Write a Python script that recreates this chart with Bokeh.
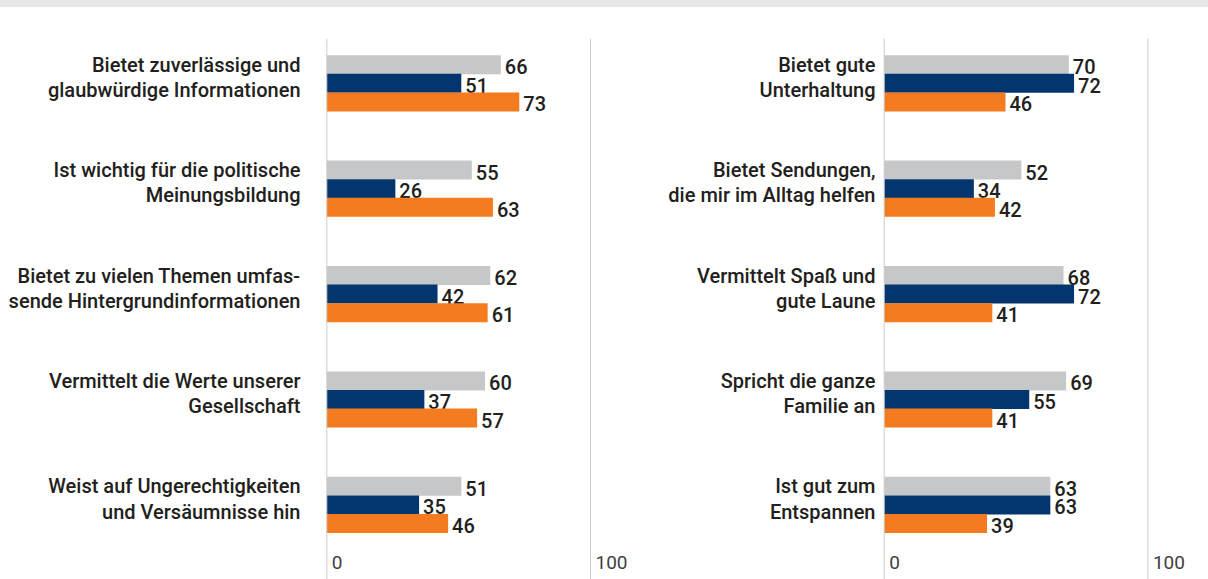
from bokeh.plotting import figure
from bokeh.layouts import row, column
from bokeh.models import Range1d, FixedTicker, ColumnDataSource, Span, Div
from bokeh.core.properties import value
from bokeh.embed import file_html
from bokeh.resources import INLINE

# ---------------- data ----------------
left_categories = [
    "Bietet zuverlässige und\nglaubwürdige Informationen",
    "Ist wichtig für die politische\nMeinungsbildung",
    "Bietet zu vielen Themen umfas-\nsende Hintergrundinformationen",
    "Vermittelt die Werte unserer\nGesellschaft",
    "Weist auf Ungerechtigkeiten\nund Versäumnisse hin",
]
left_gray = [66, 55, 62, 60, 51]
left_navy = [51, 26, 42, 37, 35]
left_orange = [73, 63, 61, 57, 46]

right_categories = [
    "Bietet gute\nUnterhaltung",
    "Bietet Sendungen,\ndie mir im Alltag helfen",
    "Vermittelt Spaß und\ngute Laune",
    "Spricht die ganze\nFamilie an",
    "Ist gut zum\nEntspannen",
]
right_gray = [70, 52, 68, 69, 63]
right_navy = [72, 34, 72, 55, 63]
right_orange = [46, 42, 41, 41, 39]

axis_ticks = [0, 100]
axis_tick_labels = ["0", "100"]

# ---------------- style ----------------
GRAY = "#c6c7c8"
NAVY = "#03366f"
ORANGE = "#f47b20"
TEXT = "#231f20"
LINE = "#cccccc"
BAND = "#e6e7e8"
FONT = "Roboto Medium, Roboto"

BAND_H = 7
PX = 2.637          # pixels per percent
GROUP_PX = 105.4    # pixels between group centres
FIRST_CENTER = 82.8 - BAND_H  # first group centre, from figure top
HEIGHT = 579 - BAND_H
TOP = 38 - BAND_H
BAR_H = 18.6 / GROUP_PX
LABEL_SHIFT = 6.0 / GROUP_PX


def panel(cats, g, n, o, width, border_left, zero_gap, standoff):
    idx = list(range(len(cats)))
    y_top = (TOP - FIRST_CENTER) / GROUP_PX
    y_bot = (HEIGHT - FIRST_CENTER) / GROUP_PX
    x_start = -zero_gap / PX
    x_end = x_start + (width - border_left) / PX
    p = figure(width=width, height=HEIGHT, output_backend="svg", toolbar_location=None,
               x_range=Range1d(x_start, x_end), y_range=Range1d(y_bot, y_top),
               x_axis_location=None, min_border_left=border_left, min_border_right=0,
               min_border_top=TOP, min_border_bottom=0)
    p.outline_line_color = None
    p.grid.visible = False
    p.border_fill_color = "white"

    for loc in axis_ticks:
        p.add_layout(Span(location=loc, dimension="height", line_color=LINE, line_width=1))

    for vals, off, col in ((g, -BAR_H, GRAY), (n, 0.0, NAVY), (o, BAR_H, ORANGE)):
        src = ColumnDataSource(dict(y=[i + off for i in idx], v=vals,
                                    t=[str(x) for x in vals]))
        p.hbar(y="y", left=0, right="v", height=BAR_H * 1.02, source=src,
               fill_color=col, line_color=None)
        p.text(x="v", y="y", text="t", source=src, x_offset=4, y_offset=2,
               text_baseline="middle", text_align="left", text_color=TEXT,
               text_font=value(FONT), text_font_size="20px")

    tsrc = ColumnDataSource(dict(x=axis_ticks, t=axis_tick_labels,
                                 y=[(562 - BAND_H - FIRST_CENTER) / GROUP_PX] * len(axis_ticks)))
    p.text(x="x", y="y", text="t", source=tsrc, x_offset=5, text_baseline="middle",
           text_align="left", text_color="#404040", text_font=value("Roboto"),
           text_font_size="19px")

    ticks = [i - LABEL_SHIFT for i in idx]
    p.yaxis.ticker = FixedTicker(ticks=ticks)
    p.yaxis.major_label_overrides = {t: c for t, c in zip(ticks, cats)}
    p.yaxis.axis_line_color = None
    p.yaxis.major_tick_line_color = None
    p.yaxis.minor_tick_line_color = None
    p.yaxis.major_label_text_font = FONT
    p.yaxis.major_label_text_font_size = "20px"
    p.yaxis.major_label_text_font_style = "normal"
    p.yaxis.major_label_text_line_height = 1.05
    p.yaxis.major_label_text_color = TEXT
    p.yaxis.major_label_standoff = standoff
    return p


left = panel(left_categories, left_gray, left_navy, left_orange,
             width=640, border_left=322, zero_gap=4.3, standoff=16)
right = panel(right_categories, right_gray, right_navy, right_orange,
              width=568, border_left=240, zero_gap=3.7, standoff=-1)

band = Div(text="", width=1208, height=BAND_H, margin=0,
           styles={"background-color": BAND})

layout = column(band, row(left, right, spacing=0), spacing=0)
open("out.html", "w").write(file_html(layout, INLINE))
